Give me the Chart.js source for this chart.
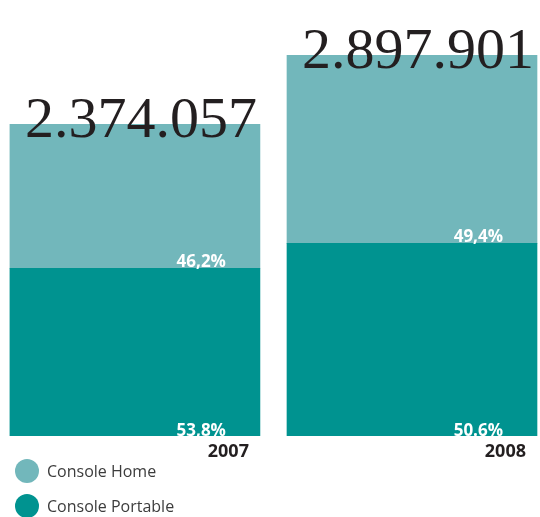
<!DOCTYPE html>
<html>
<head>
<meta charset="utf-8">
<script src="https://cdn.jsdelivr.net/npm/chart.js@4.4.1/dist/chart.umd.min.js"></script>
<style>
  html, body { margin: 0; padding: 0; background: #ffffff; }
  #wrap { width: 540px; height: 517px; position: relative; }
</style>
</head>
<body>
<div id="wrap"><canvas id="c"></canvas></div>
<script>
// Console sales: totals per year and share of home vs portable consoles
const categories = ['2007', '2008'];
const totals = [2374057, 2897901];
const totalLabels = ['2.374.057', '2.897.901'];
const homeShare = [46.2, 49.4];
const portableShare = [53.8, 50.6];
const homeLabels = ['46,2%', '49,4%'];
const portableLabels = ['53,8%', '50.6%'];
const seriesNames = ['Console Home', 'Console Portable'];

const HOME_COLOR = '#72b7bb';
const PORTABLE_COLOR = '#009390';

const portableValues = totals.map((t, i) => t * portableShare[i] / 100);
const homeValues = totals.map((t, i) => t * homeShare[i] / 100);

const BAR_WIDTH = 250;

const annotate = {
  id: 'annotate',
  afterDatasetsDraw(chart) {
    const ctx = chart.ctx;
    const xs = chart.scales.x;
    const ys = chart.scales.y;
    ctx.save();
    categories.forEach((cat, i) => {
      const cx = xs.getPixelForValue(i);
      const right = cx + BAR_WIDTH / 2;
      const base = ys.getPixelForValue(0);
      const split = ys.getPixelForValue(portableValues[i]);
      const top = ys.getPixelForValue(totals[i]);

      // share labels at the foot of each segment
      ctx.fillStyle = '#ffffff';
      ctx.font = '700 17px "Open Sans"';
      ctx.textAlign = 'right';
      ctx.textBaseline = 'alphabetic';
      ctx.fillText(portableLabels[i], right - 34, base);
      ctx.fillText(homeLabels[i], right - 34, split - 1);

      // year under the bar
      ctx.fillStyle = '#231f20';
      ctx.font = '700 18px "Open Sans"';
      ctx.fillText(cat, right - 11, base + 21);

      // total above the bar
      ctx.font = '400 58px "Liberation Serif"';
      ctx.textAlign = 'center';
      ctx.fillText(totalLabels[i], cx + 6, top + 13);
    });

    // legend
    const items = [
      { label: seriesNames[0], color: HOME_COLOR },
      { label: seriesNames[1], color: PORTABLE_COLOR }
    ];
    items.forEach((it, k) => {
      const y = 471 + k * 35;
      ctx.beginPath();
      ctx.arc(27, y, 12, 0, Math.PI * 2);
      ctx.fillStyle = it.color;
      ctx.fill();
      ctx.fillStyle = '#3c3c3c';
      ctx.font = '400 16px "Open Sans"';
      ctx.textAlign = 'left';
      ctx.textBaseline = 'middle';
      ctx.fillText(it.label, 47, y + 1);
    });
    ctx.restore();
  }
};

new Chart(document.getElementById('c'), {
  type: 'bar',
  data: {
    datasets: [
      {
        label: seriesNames[1],
        data: categories.map((c, i) => ({ x: i, y: portableValues[i] })),
        backgroundColor: PORTABLE_COLOR,
        barThickness: BAR_WIDTH,
        borderWidth: 0
      },
      {
        label: seriesNames[0],
        data: categories.map((c, i) => ({ x: i, y: homeValues[i] })),
        backgroundColor: HOME_COLOR,
        barThickness: BAR_WIDTH,
        borderWidth: 0
      }
    ]
  },
  options: {
    responsive: true,
    maintainAspectRatio: false,
    animation: false,
    layout: { padding: { left: 0, right: 0, top: 0, bottom: 81 } },
    plugins: {
      legend: { display: false },
      tooltip: { enabled: false }
    },
    scales: {
      x: {
        type: 'linear',
        stacked: true,
        offset: false,
        min: -0.487,
        max: 1.462,
        display: false
      },
      y: {
        stacked: true,
        min: 0,
        max: 3320000,
        display: false
      }
    }
  },
  plugins: [annotate]
});
</script>
</body>
</html>
